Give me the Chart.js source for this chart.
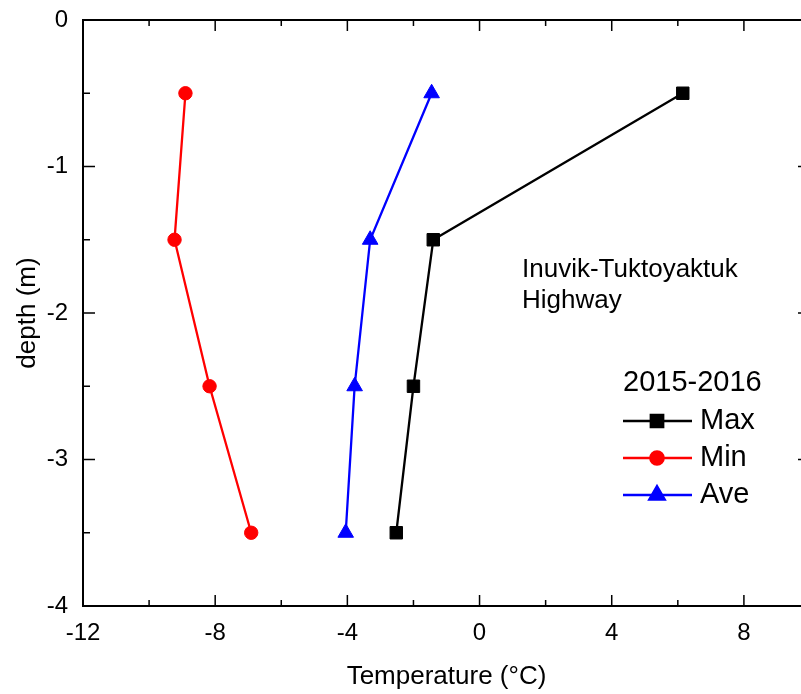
<!DOCTYPE html>
<html>
<head>
<meta charset="utf-8">
<script src="https://cdn.jsdelivr.net/npm/chart.js@4/dist/chart.umd.min.js"></script>
<style>
  html, body { margin: 0; padding: 0; background: #fff; overflow: hidden; }
  canvas { display: block; }
</style>
</head>
<body>
<canvas id="profileChart" width="820" height="694"></canvas>
<script>
// depth (m) of each sensor, and temperature (°C) read at each depth
const depths = [-0.5, -1.5, -2.5, -3.5];
const maxTemps = [6.15, -1.4, -2.0, -2.52];
const minTemps = [-8.9, -9.23, -8.17, -6.91];
const aveTemps = [-1.45, -3.31, -3.78, -4.05];

const seriesNames = ["Max", "Min", "Ave"];
const xTickValues = [-12, -8, -4, 0, 4, 8];
const yTickValues = [0, -1, -2, -3, -4];
const legendTitle = "2015-2016";
const siteLabel = ["Inuvik-Tuktoyaktuk", "Highway"];

const FONT = "'Liberation Sans', Arial, Helvetica, sans-serif";
Chart.defaults.font.family = FONT;
Chart.defaults.color = "#000";

function toPoints(temps) {
    return temps.map((t, i) => ({ x: t, y: depths[i] }));
}

function series(label, temps, color, style, radius) {
    return {
        label: label,
        data: toPoints(temps),
        showLine: true,
        borderColor: color,
        backgroundColor: color,
        borderWidth: 2.3,
        pointStyle: style,
        pointRadius: radius,
        pointHoverRadius: radius,
        pointBackgroundColor: color,
        pointBorderColor: color,
        pointBorderWidth: 1
    };
}

// frame on all four sides with inward major/minor ticks
const framePlugin = {
    id: "frame",
    afterDatasetsDraw(chart) {
        const { ctx, chartArea: a, scales } = chart;
        const xs = scales.x, ys = scales.y;
        ctx.save();
        ctx.strokeStyle = "#000";
        ctx.lineWidth = 2;
        ctx.beginPath();
        ctx.rect(a.left, a.top, a.right - a.left, a.bottom - a.top);
        ctx.stroke();

        ctx.lineWidth = 1.5;
        ctx.beginPath();
        const xMajor = xs.ticks.map(t => t.value);
        for (let i = 0; i < xMajor.length; i++) {
            const px = xs.getPixelForValue(xMajor[i]);
            ctx.moveTo(px, a.bottom); ctx.lineTo(px, a.bottom - 11);
            ctx.moveTo(px, a.top); ctx.lineTo(px, a.top + 11);
            const mid = xMajor[i] + 2;
            if (mid < xs.max) {
                const pm = xs.getPixelForValue(mid);
                ctx.moveTo(pm, a.bottom); ctx.lineTo(pm, a.bottom - 6);
                ctx.moveTo(pm, a.top); ctx.lineTo(pm, a.top + 6);
            }
        }
        const yMajor = ys.ticks.map(t => t.value);
        for (let i = 0; i < yMajor.length; i++) {
            const py = ys.getPixelForValue(yMajor[i]);
            ctx.moveTo(a.left, py); ctx.lineTo(a.left + 12, py);
            ctx.moveTo(a.right, py); ctx.lineTo(a.right - 12, py);
            const mid = yMajor[i] - 0.5;
            if (mid > ys.min) {
                const pm = ys.getPixelForValue(mid);
                ctx.moveTo(a.left, pm); ctx.lineTo(a.left + 7, pm);
                ctx.moveTo(a.right, pm); ctx.lineTo(a.right - 7, pm);
            }
        }
        ctx.stroke();
        ctx.restore();
    }
};

// site label and legend drawn inside the plot
const notesPlugin = {
    id: "notes",
    afterDraw(chart) {
        const ctx = chart.ctx;
        ctx.save();
        ctx.fillStyle = "#000";
        ctx.textAlign = "left";
        ctx.textBaseline = "middle";

        ctx.font = "26px " + FONT;
        ctx.fillText(siteLabel[0], 522, 270);
        ctx.fillText(siteLabel[1], 522, 301);

        ctx.font = "29px " + FONT;
        ctx.fillText(legendTitle, 623, 383);

        const rows = [421, 458, 495];
        chart.data.datasets.forEach((ds, i) => {
            const y = rows[i];
            ctx.strokeStyle = ds.borderColor;
            ctx.lineWidth = 2.3;
            ctx.beginPath();
            ctx.moveTo(623, y);
            ctx.lineTo(692, y);
            ctx.stroke();
            ctx.fillStyle = ds.pointBackgroundColor;
            Chart.helpers.drawPoint(ctx, {
                pointStyle: ds.pointStyle,
                radius: ds.pointRadius,
                rotation: 0,
                borderWidth: 1
            }, 657, y);
            ctx.fill();
            ctx.fillStyle = "#000";
            ctx.font = "29px " + FONT;
            ctx.fillText(ds.label, 700, y);
        });
        ctx.restore();
    }
};

new Chart(document.getElementById("profileChart"), {
    type: "scatter",
    data: {
        datasets: [
            series(seriesNames[0], maxTemps, "#000000", "rect", 8.8),
            series(seriesNames[1], minTemps, "#ff0000", "circle", 6.7),
            series(seriesNames[2], aveTemps, "#0000ff", "triangle", 9)
        ]
    },
    options: {
        responsive: false,
        animation: false,
        layout: { padding: { top: 20, right: 3, left: 0, bottom: 0 } },
        plugins: {
            legend: { display: false },
            tooltip: { enabled: false }
        },
        scales: {
            x: {
                type: "linear",
                min: -12,
                max: 10,
                afterBuildTicks: (scale) => { scale.ticks = xTickValues.map(v => ({ value: v })); },
                afterFit: (scale) => {
                    scale.height = 88;
                    scale.paddingLeft = 0;
                    scale.paddingRight = 0;
                },
                grid: { display: false, drawTicks: false },
                border: { display: false },
                ticks: { font: { size: 24 }, padding: 13, maxRotation: 0 },
                title: {
                    display: true,
                    text: "Temperature (°C)",
                    font: { size: 26 },
                    padding: { top: 0, bottom: 2 }
                }
            },
            y: {
                type: "linear",
                min: -4,
                max: 0,
                afterBuildTicks: (scale) => { scale.ticks = yTickValues.map(v => ({ value: v })); },
                afterFit: (scale) => {
                    scale.width = 83;
                    scale.paddingTop = 0;
                    scale.paddingBottom = 0;
                },
                grid: { display: false, drawTicks: false },
                border: { display: false },
                ticks: { font: { size: 24 }, padding: 15 },
                title: {
                    display: true,
                    text: "depth (m)",
                    font: { size: 26 },
                    padding: { top: 12, bottom: 0 }
                }
            }
        }
    },
    plugins: [framePlugin, notesPlugin]
});
</script>
</body>
</html>
